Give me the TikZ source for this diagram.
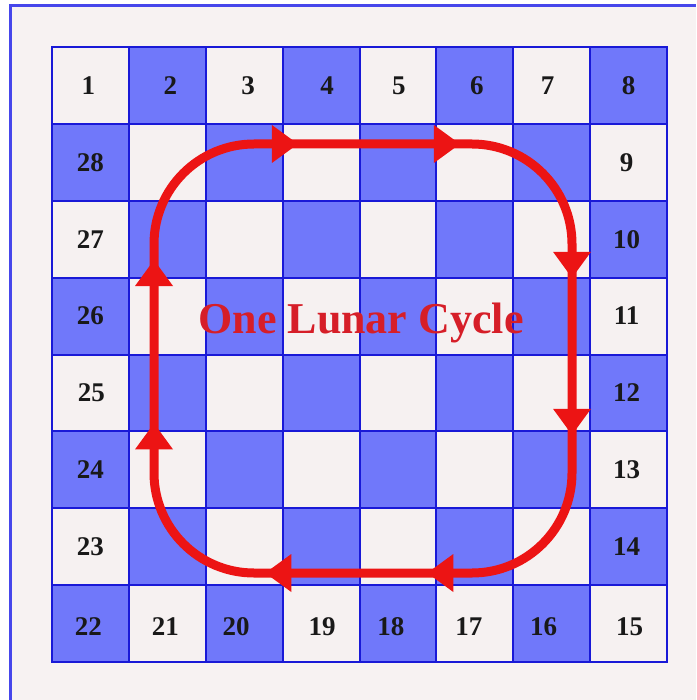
\documentclass[tikz,border=0pt]{standalone}
\usepackage{fontspec}
\setmainfont{Liberation Serif}
\usetikzlibrary{arrows.meta, decorations.markings}

\definecolor{boardblue}{RGB}{112,120,250}
\definecolor{boardlight}{RGB}{246,241,241}
\definecolor{gridline}{RGB}{25,25,215}
\definecolor{framelight}{RGB}{247,242,242}
\definecolor{frameblue}{RGB}{70,70,235}
\definecolor{moonred}{RGB}{236,20,20}
\definecolor{titlered}{RGB}{214,30,40}

\begin{document}
\begin{tikzpicture}[x=1pt, y=-1pt,
  cell/.style={rectangle, draw=gridline, line width=2pt, minimum size=76.875pt,
               inner sep=0pt, outer sep=0pt},
  sq0/.style={fill=boardlight},
  sq1/.style={fill=boardblue},
  day/.style={font=\fontsize{27}{27}\selectfont\bfseries, text=black!90},
  cycleline/.style={draw=moonred, color=moonred, line width=9pt, rounded corners=100pt},
  lunar/.style={font=\fontsize{44}{44}\selectfont\bfseries, text=titlered},
  moontip/.tip={Triangle[length=26pt, width=38pt, line width=0pt]},
]
  \useasboundingbox (0,0) rectangle (696,700);
  % outer frame, cut off at the right and bottom
  \fill[framelight] (10,6) rectangle (696,700);
  \draw[frameblue, line width=3pt] (10,700) -- (10,6) -- (696,6);

  % the 8x8 board
  \foreach \c in {0,...,7}
    \foreach \r in {0,...,7} {
      \pgfmathtruncatemacro\k{mod(\c+\r,2)}
      \node[cell, sq\k] (c-\c-\r) at ({52+76.875*\c+38.44},{47+76.875*\r+38.44}) {};
    }

  % days round the edge: number/column/row/dx/dy
  \foreach \n/\c/\r/\dx/\dy in {1/0/0/-2/0, 2/1/0/3/0, 3/2/0/4/0, 4/3/0/6/0,
      5/4/0/1/0, 6/5/0/2/0, 7/6/0/-4/0, 8/7/0/0/0,
      9/7/1/-2/0, 10/7/2/-2/0, 11/7/3/-2/0, 12/7/4/-2/0, 13/7/5/-2/0, 14/7/6/-2/0,
      15/7/7/1/3, 16/6/7/-8/3, 17/5/7/-6/3, 18/4/7/-7/3, 19/3/7/1/3,
      20/2/7/-8/3, 21/1/7/-2/3, 22/0/7/-2/3,
      23/0/6/0/0, 24/0/5/0/0, 25/0/4/1/0, 26/0/3/0/0, 27/0/2/0/0, 28/0/1/0/0}
    \node[day, xshift=\dx pt, yshift=-\dy pt] (d\n) at (c-\c-\r) {\n};

  % the cycle
  \coordinate (start) at (154,358);
  \coordinate (tl) at (154,144);
  \coordinate (tr) at (572,144);
  \coordinate (br) at (572,573);
  \coordinate (bl) at (154,573);
  \draw[cycleline, postaction={decorate}, decoration={markings,
      mark=at position 98pt with {\arrow{moontip}},
      mark=at position 315pt with {\arrow{moontip}},
      mark=at position 477pt with {\arrow{moontip}},
      mark=at position 680pt with {\arrow{moontip}},
      mark=at position 837pt with {\arrow{moontip}},
      mark=at position 1077pt with {\arrow{moontip}},
      mark=at position 1239pt with {\arrow{moontip}},
      mark=at position 1457pt with {\arrow{moontip}}}]
    (start) -- (tl) -- (tr) -- (br) -- (bl) -- (start);

  \node[lunar, anchor=base] (title) at (361,333) {One Lunar Cycle};
\end{tikzpicture}
\end{document}
